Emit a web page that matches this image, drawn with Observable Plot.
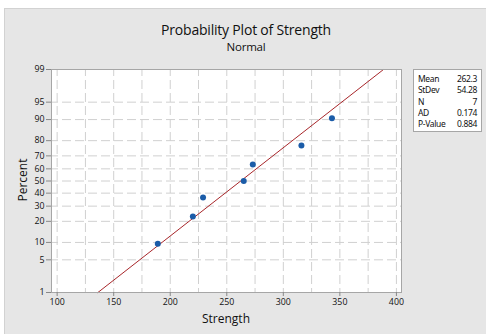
<!DOCTYPE html>
<html>
<head>
<meta charset="utf-8">
<script src="https://cdn.jsdelivr.net/npm/d3@7"></script>
<script src="https://cdn.jsdelivr.net/npm/@observablehq/plot@0.6"></script>
<style>
  html, body { margin: 0; padding: 0; background: #ffffff; }
  #wrap { position: relative; width: 486px; height: 334px; overflow: hidden; font-family: "Open Sans", "Noto Sans", sans-serif; }
  #panel { position: absolute; left: 4px; top: 8px; right: 0; bottom: 0; background: #e6e6e6; border-top: 1px solid #d2d2d2; border-left: 1px solid #d2d2d2; }
  #chart { position: absolute; left: 0; top: 0; }
  .t { position: absolute; color: #111; white-space: nowrap; }
  #title { left: 0; width: 492px; top: 20px; text-align: center; font-size: 14px; font-weight: 500; letter-spacing: -0.2px; }
  #sub { left: 0; width: 492px; top: 39px; text-align: center; font-size: 11.5px; font-weight: 500; letter-spacing: -0.2px; }
  #ylab { left: 22px; top: 180px; font-size: 12px; font-weight: 500; transform: translate(-50%, -50%) rotate(-90deg); }
  #xlab { left: 226px; top: 318px; font-size: 12px; font-weight: 500; transform: translate(-50%, -50%); }
  #legend { position: absolute; left: 413px; top: 69px; width: 67px; height: 61px; background: #fff; border: 1px solid #a6a6a6; font-family: "Noto Sans", "Open Sans", sans-serif; font-size: 8.5px; color: #111; letter-spacing: -0.35px; }
  #legend .row { position: absolute; left: 4px; right: 4px; height: 11px; line-height: 11px; }
  #legend .row span.v { position: absolute; right: 0; }
</style>
</head>
<body>
<div id="wrap">
  <div id="panel"></div>
  <div id="chart"></div>
  <div class="t" id="title">Probability Plot of Strength</div>
  <div class="t" id="sub">Normal</div>
  <div class="t" id="ylab">Percent</div>
  <div class="t" id="xlab">Strength</div>
  <div id="legend"></div>
</div>
<script>
// ---- data ----
const strength = [189, 220, 229, 265, 273, 316, 343];
const percent = [9.5, 23, 36.5, 50, 63.5, 77, 90.5];
const yTicks = [1, 5, 10, 20, 30, 40, 50, 60, 70, 80, 90, 95, 99];
const xTicks = [100, 150, 200, 250, 300, 350, 400];
const xGrid = [100, 125, 150, 175, 200, 225, 250, 275, 300, 325, 350, 375, 400];
const statLabels = ["Mean", "StDev", "N", "AD", "P-Value"];
const statValues = ["262.3", "54.28", "7", "0.174", "0.884"];
const fitMean = 262.3;
const fitSd = 54.28;

// inverse normal CDF (Acklam)
function probit(p) {
  const a = [-3.969683028665376e+01, 2.209460984245205e+02, -2.759285104469687e+02, 1.383577518672690e+02, -3.066479806614716e+01, 2.506628277459239e+00];
  const b = [-5.447609879822406e+01, 1.615858368580409e+02, -1.556989798598866e+02, 6.680131188771972e+01, -1.328068155288572e+01];
  const c = [-7.784894002430293e-03, -3.223964580411365e-01, -2.400758277161838e+00, -2.549732539343734e+00, 4.374664141464968e+00, 2.938163982698783e+00];
  const d = [7.784695709041462e-03, 3.224671290700398e-01, 2.445134137142996e+00, 3.754408661907416e+00];
  const plow = 0.02425;
  let q, r;
  if (p < plow) {
    q = Math.sqrt(-2 * Math.log(p));
    return (((((c[0]*q + c[1])*q + c[2])*q + c[3])*q + c[4])*q + c[5]) / ((((d[0]*q + d[1])*q + d[2])*q + d[3])*q + 1);
  } else if (p <= 1 - plow) {
    q = p - 0.5; r = q*q;
    return (((((a[0]*r + a[1])*r + a[2])*r + a[3])*r + a[4])*r + a[5])*q / (((((b[0]*r + b[1])*r + b[2])*r + b[3])*r + b[4])*r + 1);
  } else {
    q = Math.sqrt(-2 * Math.log(1 - p));
    return -(((((c[0]*q + c[1])*q + c[2])*q + c[3])*q + c[4])*q + c[5]) / ((((d[0]*q + d[1])*q + d[2])*q + d[3])*q + 1);
  }
}
const z = pct => probit(pct / 100);

const points = strength.map((s, i) => ({x: s, y: z(percent[i])}));
const zLo = z(yTicks[0]), zHi = z(yTicks[yTicks.length - 1]);
const fitLine = [
  {x: fitMean + fitSd * zLo, y: zLo},
  {x: fitMean + fitSd * zHi, y: zHi}
];
const yTickZ = yTicks.map(z);

const chart = Plot.plot({
  width: 486,
  height: 334,
  marginLeft: 51,
  marginRight: 85,
  marginTop: 69,
  marginBottom: 42,
  style: {background: "transparent", fontFamily: "'Open Sans', 'Noto Sans', sans-serif", fontSize: "8.8px", color: "#111"},
  x: {domain: [95, 404.5]},
  y: {domain: [zLo, zHi]},
  marks: [
    Plot.frame({fill: "white", stroke: "none"}),
    Plot.gridX(xGrid, {stroke: "#d0d0d0", strokeOpacity: 1, strokeDasharray: "9,4", strokeDashoffset: 2}),
    Plot.gridY(yTickZ, {stroke: "#d0d0d0", strokeOpacity: 1, strokeDasharray: "9,4", strokeDashoffset: 2}),
    Plot.line(fitLine, {x: "x", y: "y", stroke: "#a8262a", strokeWidth: 1}),
    Plot.dot(points, {x: "x", y: "y", r: 3, fill: "#1b5ca8", stroke: "none"}),
    Plot.frame({stroke: "#a6a6a6", strokeWidth: 1}),
    Plot.axisX(xTicks, {tickSize: 4, tickPadding: 2, stroke: "#888", fill: "#111", label: null}),
    Plot.axisY(yTickZ, {tickSize: 5, tickPadding: 2, stroke: "#888", fill: "#111", label: null,
      tickFormat: v => { const i = yTickZ.findIndex(t => Math.abs(t - v) < 1e-9); return i >= 0 ? String(yTicks[i]) : ""; }})
  ]
});
document.getElementById("chart").appendChild(chart);

const legend = document.getElementById("legend");
statLabels.forEach((lab, i) => {
  const row = document.createElement("div");
  row.className = "row";
  row.style.top = (3 + i * 11.3) + "px";
  row.innerHTML = `<span>${lab}</span><span class="v">${statValues[i]}</span>`;
  legend.appendChild(row);
});
</script>
</body>
</html>
